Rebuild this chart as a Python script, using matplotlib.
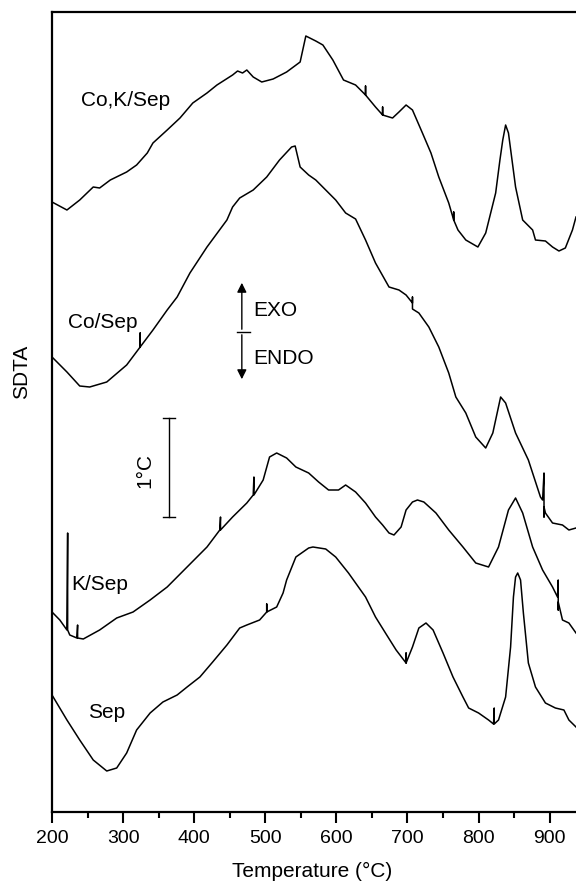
import matplotlib
matplotlib.use("Agg")
import matplotlib.pyplot as plt

plt.rcParams["font.family"] = ["Liberation Sans", "DejaVu Sans"]

# temperatures (deg C) and SDTA signal (arbitrary units, curves stacked)
cok_t = [200, 221, 239, 258, 267, 282, 305, 319, 334, 342, 362, 380, 398, 418, 432, 454,
         461, 468, 474, 483, 495, 511, 530, 549, 557, 571, 581, 595, 610, 627, 641, 641,
         641, 655, 665, 665, 665, 679, 688, 698, 707, 721, 733, 744, 758, 765, 765, 765,
         771, 782, 799, 810, 824, 830, 834, 838, 842, 852, 862, 876, 880, 894, 904, 913,
         922, 932, 937]
cok_s = [610, 602, 612, 625, 624, 632, 640, 647, 659, 669, 682, 694, 709, 719, 727, 737,
         741, 739, 742, 735, 730, 733, 740, 750, 776, 771, 767, 752, 732, 727, 717, 726,
         717, 705, 697, 705, 697, 694, 700, 707, 702, 679, 659, 635, 609, 592, 600, 592,
         582, 572, 565, 579, 619, 652, 672, 687, 679, 625, 592, 582, 572, 571, 565, 561,
         564, 582, 595]

co_t = [200, 221, 239, 253, 277, 305, 324, 324, 324, 342, 362, 376, 394, 418, 446, 454,
        464, 483, 502, 520, 537, 542, 549, 561, 571, 585, 599, 613, 627, 641, 655, 674,
        688, 698, 707, 707, 707, 716, 730, 744, 758, 768, 782, 796, 810, 820, 831, 838,
        852, 870, 887, 890, 892, 892, 892, 894, 904, 918, 927, 937]
co_s = [455, 440, 426, 425, 430, 447, 465, 479, 465, 482, 502, 515, 539, 565, 592, 605,
        614, 622, 635, 652, 665, 666, 645, 637, 632, 622, 612, 599, 593, 572, 549, 525,
        522, 517, 509, 515, 503, 499, 485, 465, 439, 415, 399, 375, 364, 379, 415, 409,
        379, 352, 315, 312, 339, 295, 305, 299, 289, 287, 282, 284]

k_t = [200, 211, 221, 222, 222, 225, 235, 236, 236, 244, 267, 291, 314, 338, 362, 390,
       418, 436, 437, 437, 454, 474, 483, 484, 484, 497, 506, 516, 530, 543, 561, 575,
       589, 603, 613, 627, 641, 655, 665, 674, 681, 691, 698, 707, 714, 723, 740, 758,
       778, 796, 814, 828, 842, 852, 862, 876, 890, 904, 911, 912, 912, 912, 918, 927,
       937]
k_s = [200, 192, 182, 279, 182, 177, 174, 187, 174, 173, 182, 194, 200, 212, 225, 245,
       265, 282, 295, 282, 295, 309, 317, 335, 317, 332, 355, 359, 354, 345, 339, 330,
       322, 322, 327, 320, 309, 295, 287, 279, 277, 285, 302, 310, 312, 310, 299, 282,
       265, 249, 245, 265, 302, 314, 299, 265, 242, 225, 215, 232, 202, 210, 192, 189,
       179]

sep_t = [200, 221, 239, 258, 277, 291, 305, 319, 338, 356, 376, 390, 408, 426, 446, 464,
         474, 492, 502, 502, 502, 516, 525, 530, 543, 561, 567, 585, 599, 617, 627, 641,
         655, 669, 684, 698, 698, 698, 707, 716, 726, 736, 750, 764, 778, 786, 800, 814,
         821, 822, 822, 828, 838, 845, 849, 852, 855, 859, 863, 870, 880, 894, 908, 920,
         927, 937]
sep_s = [117, 92, 72, 52, 41, 44, 59, 82, 99, 110, 117, 125, 135, 150, 167, 184,
         187, 192, 200, 208, 200, 205, 219, 232, 255, 264, 265, 263, 255, 239, 229, 215,
         195, 179, 162, 149, 159, 149, 165, 184, 189, 182, 159, 135, 115, 104, 99, 92,
         88, 104, 88, 92, 115, 165, 215, 235, 239, 232, 199, 149, 125, 109, 104, 102,
         92, 85]

curves = [
    (cok_t, cok_s, "Co,K/Sep", 304, 711),
    (co_t, co_s, "Co/Sep", 272, 489),
    (k_t, k_s, "K/Sep", 267, 227),
    (sep_t, sep_s, "Sep", 277, 99),
]

fig = plt.figure(figsize=(5.76, 8.83), dpi=100)
ax = fig.add_axes([52 / 576, 71 / 883, 524 / 576, 800 / 883])

for t, s, name, lx, ly in curves:
    ax.plot(t, s, color="black", lw=1.1)
    ax.text(lx, ly, name, fontsize=15, ha="center", va="center")

# EXO / ENDO arrow
ax.annotate("", xy=(467, 532), xytext=(467, 480),
            arrowprops=dict(arrowstyle="-|>", color="black", lw=1.0, mutation_scale=14))
ax.annotate("", xy=(467, 430), xytext=(467, 480),
            arrowprops=dict(arrowstyle="-|>", color="black", lw=1.0, mutation_scale=14))
ax.plot([460, 479], [480, 480], color="black", lw=1.0)
ax.text(483, 502, "EXO", fontsize=15, ha="left", va="center")
ax.text(483, 454, "ENDO", fontsize=15, ha="left", va="center")

# 1 deg C scale bar
ax.plot([364, 364], [295, 394], color="black", lw=1.0)
ax.plot([356, 373], [394, 394], color="black", lw=1.0)
ax.plot([356, 373], [295, 295], color="black", lw=1.0)
ax.text(331, 342, "1°C", fontsize=15, rotation=90, ha="center", va="center")

ax.set_xlim(200, 937)
ax.set_ylim(0, 800)
ax.set_xticks(range(200, 901, 100))
ax.set_xticks(range(250, 901, 100), minor=True)
ax.set_yticks([])
ax.tick_params(axis="x", which="major", direction="out", length=8, width=1.5, labelsize=14, pad=5)
ax.tick_params(axis="x", which="minor", direction="out", length=4, width=1.5)
ax.spines["right"].set_visible(False)
for side in ("left", "top", "bottom"):
    ax.spines[side].set_linewidth(1.6)

fig.text(312 / 576, 1 - 871 / 883, "Temperature (°C)", fontsize=15, ha="center", va="center")
fig.text(22 / 576, 1 - 372 / 883, "SDTA", fontsize=15, rotation=90, ha="center", va="center")

fig.savefig("out.png", dpi=100)
